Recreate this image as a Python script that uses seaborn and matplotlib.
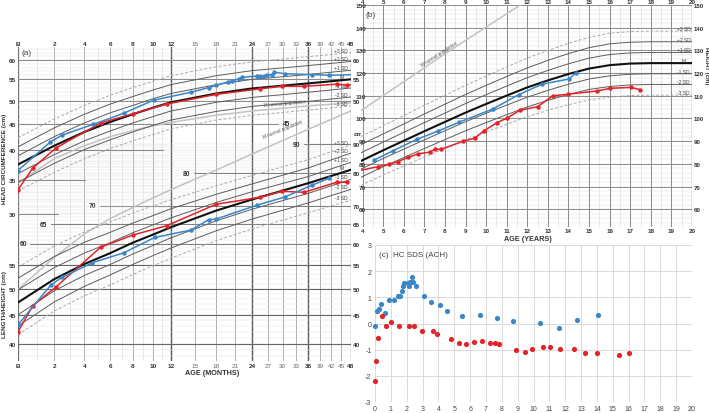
import numpy as np
import matplotlib
matplotlib.use('Agg')
import matplotlib.pyplot as plt
import seaborn as sns

sns.set_style('white')
plt.rcParams['font.family'] = ['Liberation Sans', 'DejaVu Sans']
plt.rcParams['axes.unicode_minus'] = False

BLUE = '#3a86c8'
RED = '#e2232a'
SD_GREY = '#5c5c5c'
DASH_GREY = '#a9a9a9'
NORM_GREY = '#c2c2c2'
TXT = '#333333'

# ---------------- (a) reference curves, age in months ----------------
ref_months = [0, 2, 4, 6, 8, 10, 12, 18, 24, 36, 48]
hc_p3 = [42.3, 46.0, 48.9, 51.2, 53.0, 54.5, 55.9, 58.2, 59.5, 60.9, 62.0]
hc_p2 = [40.6, 44.2, 47.0, 49.2, 50.9, 52.4, 53.7, 55.9, 57.2, 58.5, 59.6]
hc_p1 = [39.0, 42.5, 45.2, 47.3, 48.9, 50.4, 51.6, 53.7, 55.0, 56.2, 57.3]
hc_m = [37.5, 40.8, 43.4, 45.4, 47.0, 48.4, 49.6, 51.6, 52.8, 54.0, 55.0]
hc_m1 = [36.0, 39.2, 41.7, 43.6, 45.2, 46.5, 47.7, 49.6, 50.7, 51.9, 52.9]
hc_m2 = [34.6, 37.7, 40.1, 41.9, 43.4, 44.7, 45.8, 47.6, 48.7, 49.8, 50.8]
hc_m3 = [33.3, 36.2, 38.5, 40.3, 41.7, 42.9, 44.0, 45.8, 46.8, 47.9, 48.8]

len_p3 = [54.6, 59.5, 63.0, 65.6, 68.0, 70.0, 71.8, 76.0, 79.3, 84.5, 89.7]
len_p2 = [52.2, 57.0, 60.4, 62.9, 65.3, 67.3, 69.2, 73.4, 76.6, 81.7, 86.8]
len_p1 = [49.8, 54.5, 57.8, 60.3, 62.8, 64.8, 66.7, 71.0, 74.2, 78.9, 83.6]
len_m = [47.3, 52.0, 55.3, 57.8, 60.3, 62.3, 64.2, 68.7, 71.9, 76.8, 81.1]
len_m1 = [45.0, 49.6, 52.8, 55.2, 57.6, 59.6, 61.5, 65.9, 69.1, 73.7, 78.0]
len_m2 = [43.0, 47.4, 50.5, 52.9, 55.2, 57.2, 59.0, 63.3, 66.4, 70.9, 74.9]
len_m3 = [41.5, 45.7, 48.6, 50.8, 53.0, 54.9, 56.6, 60.8, 63.8, 68.1, 71.7]

norm_months = [0, 2, 4, 6, 9, 12, 18, 24, 36, 48]
hc_norm = [34.5, 38.5, 40.8, 42.5, 44.2, 45.3, 46.8, 47.7, 48.8, 49.5]
len_norm = [49.9, 56.8, 62.5, 66.5, 71.0, 74.8, 81.0, 86.5, 95.6, 103.0]

# (a) patients
red_hc_age = [0, 0.77, 2.11, 5.23, 8.0, 11.5, 18, 25.4, 29.9, 35, 43.7, 46.6, 57.4]
red_hc = [33.5, 36.9, 40.4, 45.2, 47.1, 49.2, 51.4, 52.7, 53.3, 53.3, 53.8, 53.6, 54.0]
blue_hc_age = [0, 1.77, 2.49, 4.64, 7.16, 10.1, 14.5, 16.9, 18, 19.9, 20.5, 21.6,
               22.1, 24.8, 25.4, 26.1, 26.7, 27.8, 28.2, 30.5, 36.8, 41.4, 49.6]
blue_hc = [36.5, 41.5, 42.8, 44.9, 47.2, 50.1, 51.9, 53.0, 53.5, 54.4, 54.6, 55.1,
           55.5, 55.8, 55.8, 55.7, 56.1, 56.2, 56.8, 56.4, 56.2, 56.0, 56.2]
red_len_age = [0, 0.77, 2.11, 5.23, 8.0, 11.5, 18, 25.4, 29.9, 35, 43.7, 46.6]
red_len = [42.0, 46.7, 50.4, 59.2, 62.2, 64.6, 70.5, 72.5, 74.3, 74.0, 77.1, 77.1]
blue_len_age = [0, 1.8, 2.5, 4.6, 7.2, 10.2, 14.5, 16.9, 18, 24.8, 30.5, 37, 41.4]
blue_len = [43.2, 50.8, 52.4, 55.6, 57.9, 61.6, 63.5, 66.2, 66.4, 70.2, 72.6, 76.2, 78.3]

month_ticks = [0, 2, 4, 6, 8, 10, 12, 15, 18, 21, 24, 27, 30, 33, 36, 39, 42, 45, 48]
month_labels = ['B', '2', '4', '6', '8', '10', '12', '15', '18', '21', '24', '27',
                '30', '33', '36', '39', '42', '45', '48']
sd_names = ['+3 SD', '+2 SD', '+1 SD', 'M', '-1 SD', '-2 SD', '-3 SD']

# ---------------- (b) height, age in years ----------------
ht_years = [3.92, 5, 6, 7, 8, 9, 10, 11, 12, 13, 14, 15, 16, 17, 18, 20]
ht_p3 = [92.1, 96.8, 101.3, 105.8, 110.2, 114.6, 118.7, 122.7, 126.6, 130.0, 133.1, 135.8, 137.6, 138.3, 138.5, 138.5]
ht_p2 = [88.5, 93.2, 97.6, 102.0, 106.3, 110.6, 114.6, 118.5, 122.3, 125.6, 128.6, 131.2, 132.9, 133.6, 133.8, 133.8]
ht_p1 = [84.9, 89.6, 93.9, 98.2, 102.4, 106.6, 110.5, 114.3, 118.0, 121.2, 124.1, 126.6, 128.2, 128.9, 129.1, 129.1]
ht_m = [81.3, 86.0, 90.2, 94.4, 98.5, 102.6, 106.4, 110.1, 113.7, 116.8, 119.6, 122.0, 123.5, 124.2, 124.4, 124.4]
ht_m1 = [77.7, 82.4, 86.5, 90.6, 94.6, 98.6, 102.3, 105.9, 109.4, 112.4, 115.1, 117.4, 118.8, 119.5, 119.7, 119.7]
ht_m2 = [74.1, 78.8, 82.8, 86.8, 90.7, 94.6, 98.2, 101.7, 105.1, 108.0, 110.6, 112.8, 114.1, 114.8, 115.0, 115.0]
ht_m3 = [70.5, 75.2, 79.1, 83.0, 86.8, 90.6, 94.1, 97.5, 100.8, 103.6, 106.1, 108.2, 109.4, 110.1, 110.3, 110.3]
ht_norm_years = [3.92, 6, 8, 10, 12]
ht_norm = [103.5, 116.2, 128.5, 140.3, 152.0]

blue_ht_age = [4.56, 5.48, 6.63, 7.65, 8.67, 10.33, 11.58, 12.71, 14.01, 14.36]
blue_ht = [81.7, 85.8, 90.8, 94.4, 98.3, 104.2, 110.5, 115.1, 117.4, 120.0]
red_ht_age = [3.88, 4.74, 5.30, 5.71, 6.22, 6.69, 7.27, 7.53, 7.81, 8.88, 9.44, 9.90,
              10.53, 11.02, 11.63, 12.50, 13.24, 13.98, 15.37, 16.02, 17.04, 17.48]
red_ht = [77.1, 78.8, 79.8, 81.0, 82.9, 84.4, 85.2, 86.6, 86.4, 90.0, 91.3, 94.6,
          98.2, 100.2, 103.6, 105.2, 110.0, 110.7, 112.1, 113.3, 113.7, 112.7]

# ---------------- (c) HC SDS ----------------
blue_sds_age = [0.00, 0.15, 0.23, 0.40, 0.61, 0.88, 1.22, 1.43, 1.56, 1.68, 1.75, 1.85,
                2.11, 2.17, 2.21, 2.27, 2.36, 2.38, 2.57, 3.12, 3.52, 4.13, 4.57, 5.52,
                6.65, 7.68, 8.69, 10.38, 11.62, 12.74, 14.06]
blue_sds = [-0.08, 0.46, 0.56, 0.76, 0.42, 0.89, 0.89, 1.04, 1.04, 1.26, 1.42, 1.55,
            1.55, 1.42, 1.58, 1.58, 1.77, 1.58, 1.42, 1.06, 0.84, 0.71, 0.47, 0.29,
            0.33, 0.20, 0.10, 0.01, -0.18, 0.15, 0.33]
red_sds_age = [0.00, 0.06, 0.17, 0.42, 0.67, 0.99, 1.52, 2.15, 2.48, 2.95, 3.68, 3.94,
               4.78, 5.31, 5.71, 6.25, 6.74, 7.28, 7.56, 7.85, 8.88, 9.47, 9.92, 10.57,
               11.01, 11.66, 12.53, 13.26, 14.00, 15.41, 16.04]
red_sds = [-2.20, -1.45, -0.55, 0.27, -0.08, 0.06, -0.08, -0.11, -0.08, -0.30, -0.30, -0.41,
           -0.60, -0.75, -0.78, -0.71, -0.65, -0.75, -0.74, -0.79, -1.00, -1.09, -0.97, -0.90,
           -0.88, -0.97, -0.97, -1.13, -1.11, -1.19, -1.13]

W, H = 709, 414


def box(l, t, r, b):
    return [l / W, 1 - b / H, (r - l) / W, (b - t) / H]


def month_fwd(m):
    return np.log(np.asarray(m, dtype=float) + 9.0)


def month_inv(v):
    return np.exp(np.asarray(v, dtype=float)) - 9.0


def draw_sd_curves(ax, x, curves, lab_x, lab_size=3.6):
    for name, vals in zip(sd_names, curves):
        if name == 'M':
            ax.plot(x, vals, color='#111111', lw=1.5, zorder=2)
        elif name in ('+3 SD', '-3 SD'):
            ax.plot(x, vals, color=DASH_GREY, lw=0.7, dashes=(3, 2), zorder=2)
        else:
            ax.plot(x, vals, color=SD_GREY, lw=0.7, zorder=2)
        ax.text(lab_x, vals[-1], name, fontsize=lab_size, color='#444444',
                ha='center', va='bottom', zorder=3)


def patient(ax, x, y, color, **kw):
    sns.lineplot(x=x, y=y, ax=ax, color=color, marker='o', markersize=3.2,
                 markeredgewidth=0, linewidth=1.1, sort=False, errorbar=None, zorder=4, **kw)


fig = plt.figure(figsize=(W / 100, H / 100), dpi=100)

# ======================= panel (a) =======================
A_BOX = box(18, 48, 351, 362)
g_len = fig.add_axes(A_BOX)
g_hc = fig.add_axes(A_BOX)
d_len = fig.add_axes(A_BOX)
d_hc = fig.add_axes(A_BOX)
for ax in (g_len, g_hc, d_len, d_hc):
    ax.set_xscale('function', functions=(month_fwd, month_inv))
    ax.set_xlim(0, 48)
    ax.set_yscale('log')
    for s in ax.spines.values():
        s.set_visible(False)
    ax.tick_params(length=0, labelsize=4.6, colors=TXT)
    ax.set_xlabel('')
    ax.set_ylabel('')
    if ax is not g_len:
        ax.patch.set_alpha(0)
for ax in (g_len, d_len):
    ax.set_ylim(37.3, 133.5)
for ax in (g_hc, d_hc):
    ax.set_ylim(15.5, 63.6)

# vertical grid
for m in range(1, 12, 2):
    g_len.axvline(m, color='#d6d6d6', lw=0.4, zorder=0)
for m in month_ticks:
    if m in (12, 24, 36):
        g_len.axvline(m, color='#555555', lw=1.0, zorder=0)
    elif m in (0, 48):
        g_len.axvline(m, color='#666666', lw=0.9, zorder=0)
    else:
        g_len.axvline(m, color='#a0a0a0', lw=0.6, zorder=0)

# horizontal grid, length
for v in range(38, 91):
    g_len.axhline(v, color='#e0e0e0', lw=0.35, zorder=0)
for v in (40, 45, 50, 55):
    g_len.axhline(v, color='#666666', lw=0.8, zorder=0)
len_steps = {60: 0.036, 65: 0.10, 70: 0.246, 80: 0.53, 90: 0.86}
for v, x0 in len_steps.items():
    g_len.axhline(v, xmin=x0, color='#808080', lw=0.75, zorder=0)
    if v != 60:
        g_len.text(x0 - 0.012, v, str(v), transform=g_len.get_yaxis_transform(),
                   fontsize=4.8, fontweight='bold', color=TXT, ha='right', va='center')
g_len.text(0.027, 60, '60', transform=g_len.get_yaxis_transform(),
           fontsize=4.8, fontweight='bold', color=TXT, ha='right', va='center')

# horizontal grid, head circumference
for v in range(30, 64):
    g_hc.axhline(v, xmax=1.0 if v >= 45 else 0.45, color='#e0e0e0', lw=0.35, zorder=0)
hc_steps = {60: 1.0, 55: 1.0, 50: 1.0, 45: 0.78, 40: 0.435, 35: 0.2, 30: 0.12}
for v, x1 in hc_steps.items():
    g_hc.axhline(v, xmax=x1, color='#8c8c8c', lw=0.75, zorder=0)
g_hc.text(0.795, 45, '45', transform=g_hc.get_yaxis_transform(),
          fontsize=4.8, fontweight='bold', color=TXT, ha='left', va='center')

# ticks
g_len.set_xticks(month_ticks)
g_len.set_xticklabels(month_labels)
g_len.xaxis.set_minor_locator(plt.NullLocator())
g_len.tick_params(axis='x', pad=1.2)
g_hc.xaxis.tick_top()
g_hc.set_xticks(month_ticks)
g_hc.set_xticklabels(month_labels)
g_hc.xaxis.set_minor_locator(plt.NullLocator())
g_hc.tick_params(axis='x', pad=0.8)
for ax in (g_len, g_hc):
    for lab in ax.get_xticklabels():
        if lab.get_text() in ('B', '2', '4', '6', '8', '10', '12', '24', '36', '48'):
            lab.set_fontweight('bold')
        else:
            lab.set_color('#666666')
d_len.set_xticks([])
d_hc.set_xticks([])
d_len.xaxis.set_minor_locator(plt.NullLocator())
d_hc.xaxis.set_minor_locator(plt.NullLocator())

g_len.set_yticks([40, 45, 50, 55])
g_len.set_yticklabels(['40', '45', '50', '55'])
g_hc.set_yticks([30, 35, 40, 45, 50, 55, 60])
g_hc.set_yticklabels(['30', '35', '40', '45', '50', '55', '60'])
d_len.yaxis.tick_right()
d_len.set_yticks([40, 45, 50, 55, 60, 65, 70, 80, 90])
d_len.set_yticklabels(['40', '45', '50', '55', '60', '65', '70', '80', '90'])
d_hc.yaxis.tick_right()
d_hc.set_yticks([50, 55, 60])
d_hc.set_yticklabels(['50', '55', '60'])
for ax in (g_len, g_hc, d_len, d_hc):
    ax.set_yticks([], minor=True)
    ax.tick_params(axis='y', pad=1.5)
    for lab in ax.get_yticklabels():
        lab.set_fontweight('bold')

# curves
draw_sd_curves(d_len, ref_months, [len_p3, len_p2, len_p1, len_m, len_m1, len_m2, len_m3], 45)
draw_sd_curves(d_hc, ref_months, [hc_p3, hc_p2, hc_p1, hc_m, hc_m1, hc_m2, hc_m3], 45)
d_len.plot(norm_months, len_norm, color=NORM_GREY, lw=1.1, zorder=1.5)
d_hc.plot(norm_months, hc_norm, color=NORM_GREY, lw=1.1, zorder=1.5)
d_hc.text(30.5, 48.5, 'M normal population', fontsize=3.3, color='#555555',
          rotation=5, ha='center', va='bottom')
d_len.text(30.0, 92.0, 'M normal population', fontsize=3.3, color='#555555',
           rotation=22, ha='center', va='bottom')

patient(d_len, red_len_age, red_len, RED)
patient(d_len, blue_len_age, blue_len, BLUE)
patient(d_hc, red_hc_age, red_hc, RED)
patient(d_hc, blue_hc_age, blue_hc, BLUE)
for ax in (d_len, d_hc):
    ax.set_xlabel('')
    ax.set_ylabel('')

g_hc.text(0.012, 0.995, '(a)', transform=g_hc.transAxes, fontsize=6, color='#444444',
          va='top', ha='left')
d_len.text(1.008, 94, 'cm', transform=d_len.get_yaxis_transform(), fontsize=4.6,
           fontweight='bold', color=TXT, ha='left', va='center')
fig.text(5 / W, 1 - 159 / H, 'HEAD CIRCUMFERENCE (cm)', rotation=90, fontsize=4.6,
         fontweight='bold', color=TXT, ha='center', va='center')
fig.text(5 / W, 1 - 305 / H, 'LENGTH/HEIGHT (cm)', rotation=90, fontsize=4.6,
         fontweight='bold', color=TXT, ha='center', va='center')
fig.text(212 / W, 1 - 374 / H, 'AGE (MONTHS)', fontsize=5.2, fontweight='bold',
         color=TXT, ha='center', va='center')

# ======================= panel (b) =======================
ax_b = fig.add_axes(box(361, 6, 692, 228))
ax_b.set_xlim(3.92, 20)
ax_b.set_ylim(52.2, 150)
for s in ax_b.spines.values():
    s.set_visible(False)
for yr in np.arange(4.5, 20, 0.5):
    ax_b.axvline(yr, color='#d8d8d8', lw=0.4, zorder=0)
for v in range(54, 150, 2):
    ax_b.axhline(v, color='#e0e0e0', lw=0.35, zorder=0)
for yr in range(4, 21):
    ax_b.axvline(yr, color='#8c8c8c', lw=0.7, zorder=0)
for v in range(60, 151, 10):
    ax_b.axhline(v, color='#8c8c8c', lw=0.7, zorder=0)
ax_b.axvline(20, color='#555555', lw=0.9, zorder=0)

draw_sd_curves(ax_b, ht_years, [ht_p3, ht_p2, ht_p1, ht_m, ht_m1, ht_m2, ht_m3], 19.6)
ax_b.plot(ht_norm_years, ht_norm, color=NORM_GREY, lw=1.1, zorder=1.5)
ax_b.text(7.7, 122.5, 'M normal population', fontsize=3.3, color='#555555',
          rotation=33, ha='center', va='bottom')
patient(ax_b, blue_ht_age, blue_ht, BLUE)
# first red visit lies just left of the visible range
patient(ax_b, red_ht_age, red_ht, RED, markevery=list(range(1, len(red_ht))))
ax_b.set_xlabel('')
ax_b.set_ylabel('')

ax_b.set_xticks(range(4, 21))
ax_b.set_xticklabels([str(v) for v in range(4, 21)])
ax_b.tick_params(axis='x', length=0, labelsize=4.5, colors=TXT, labeltop=True,
                 labelbottom=True, pad=1.0)
ax_b.set_yticks(range(60, 151, 10))
ax_b.set_yticklabels([str(v) for v in range(60, 151, 10)])
ax_b.tick_params(axis='y', length=0, labelsize=4.6, colors=TXT, pad=-3.6)
for lab in ax_b.get_xticklabels() + ax_b.get_yticklabels():
    lab.set_fontweight('bold')
ax_b2 = ax_b.twinx()
ax_b2.set_ylim(52.2, 150)
ax_b2.set_yticks(range(60, 151, 10))
ax_b2.set_yticklabels([str(v) for v in range(60, 151, 10)])
ax_b2.tick_params(axis='y', length=0, labelsize=4.4, colors=TXT, pad=1.0)
for lab in ax_b2.get_yticklabels():
    lab.set_fontweight('bold')
for s in ax_b2.spines.values():
    s.set_visible(False)
ax_b.text(0.015, 0.975, '(b)', transform=ax_b.transAxes, fontsize=6, color='#444444',
          va='top', ha='left')
fig.text(706.5 / W, 1 - 66 / H, 'HEIGHT (cm)', rotation=270, fontsize=4.4,
         fontweight='bold', color=TXT, ha='center', va='center')
fig.text(528 / W, 1 - 240 / H, 'AGE (YEARS)', fontsize=5.2, fontweight='bold',
         color=TXT, ha='center', va='center')

# ======================= panel (c) =======================
ax_c = fig.add_axes(box(375, 246, 692, 403))
ax_c.set_xlim(0, 20)
ax_c.set_ylim(-3, 3)
for s in ax_c.spines.values():
    s.set_visible(False)
ax_c.set_xticks(range(0, 21))
ax_c.set_yticks(range(-3, 4))
ax_c.grid(True, color='#d4d4d4', lw=0.6)
ax_c.set_axisbelow(True)
ax_c.tick_params(length=0, labelsize=5, colors='#444444', pad=2.5)
sns.scatterplot(x=blue_sds_age, y=blue_sds, ax=ax_c, color=BLUE, s=14, linewidth=0,
                zorder=3, clip_on=False)
sns.scatterplot(x=red_sds_age, y=red_sds, ax=ax_c, color=RED, s=14, linewidth=0,
                zorder=3, clip_on=False)
ax_c.set_xlabel('')
ax_c.set_ylabel('')
ax_c.text(0.012, 0.94, '(c)  HC SDS (ACH)', transform=ax_c.transAxes, fontsize=5.8,
          color='#444444', va='center', ha='left')

fig.savefig('out.png', dpi=100)
